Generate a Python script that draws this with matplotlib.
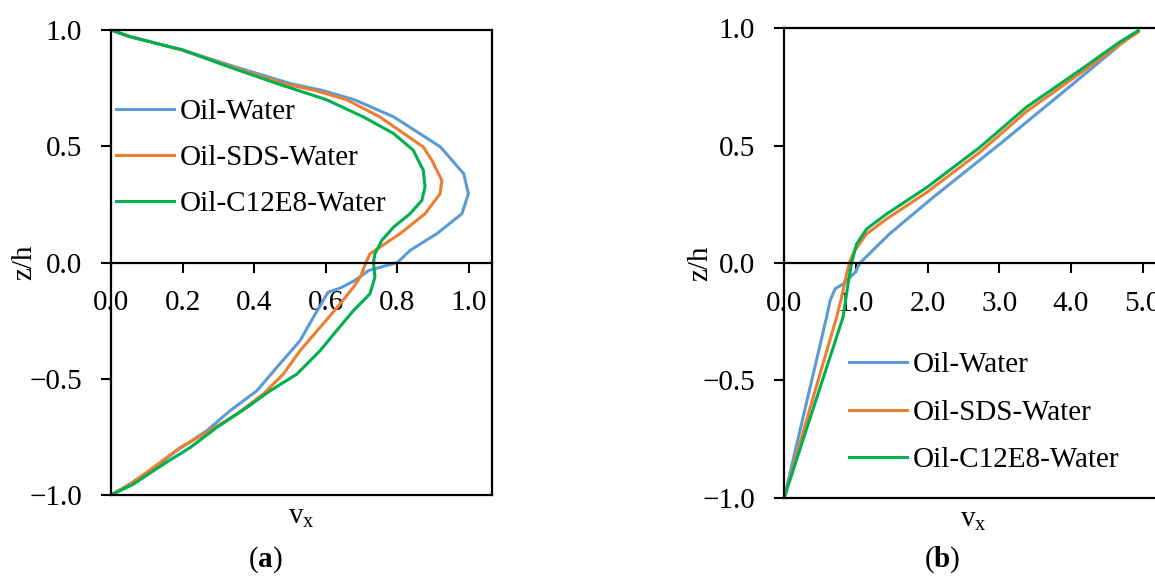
import numpy as np
import matplotlib
matplotlib.use("Agg")
from matplotlib import pyplot as plt

plt.rcParams['font.family'] = ['Liberation Serif', 'DejaVu Serif']
plt.rcParams['mathtext.fontset'] = 'custom'
plt.rcParams['mathtext.rm'] = 'Liberation Serif'
plt.rcParams['mathtext.it'] = 'Liberation Serif:italic'
plt.rcParams['mathtext.bf'] = 'Liberation Serif:bold'

labels = ['Oil-Water', 'Oil-SDS-Water', 'Oil-C12E8-Water']
colors = ['#5B9BD5', '#ED7D31', '#00B050']

# (a) velocity profiles, v_x against z/h
a_ow_v = [0.0, 0.044, 0.109, 0.183, 0.267, 0.332, 0.407, 0.463, 0.528, 0.565, 0.606, 0.64, 0.68,
          0.72, 0.80, 0.835, 0.91, 0.98, 0.998, 0.985, 0.92, 0.79, 0.68, 0.59, 0.50, 0.35, 0.2, 0.055, 0.0]
a_ow_z = [-1.0, -0.961, -0.897, -0.81, -0.724, -0.638, -0.552, -0.451, -0.336, -0.236, -0.128, -0.11, -0.078,
          -0.034, 0.0, 0.052, 0.124, 0.21, 0.296, 0.382, 0.497, 0.626, 0.70, 0.74, 0.77, 0.84, 0.914, 0.971, 1.0]

a_sds_v = [0.0, 0.053, 0.118, 0.193, 0.267, 0.351, 0.425, 0.481, 0.528, 0.584, 0.64, 0.677, 0.696,
           0.712, 0.723, 0.751, 0.807, 0.877, 0.919, 0.924, 0.896, 0.872, 0.751, 0.658, 0.57, 0.48, 0.34, 0.2, 0.054, 0.0]
a_sds_z = [-1.0, -0.954, -0.882, -0.796, -0.731, -0.652, -0.566, -0.48, -0.379, -0.279, -0.178, -0.106, -0.063,
           0.0, 0.037, 0.066, 0.124, 0.21, 0.296, 0.353, 0.44, 0.497, 0.626, 0.70, 0.74, 0.77, 0.84, 0.914, 0.971, 1.0]

a_c12_v = [0.0, 0.062, 0.146, 0.221, 0.295, 0.379, 0.444, 0.519, 0.584, 0.63, 0.677, 0.723, 0.737,
           0.733, 0.737, 0.756, 0.789, 0.835, 0.868, 0.877, 0.872, 0.844, 0.789, 0.705, 0.602, 0.463, 0.332, 0.2, 0.053, 0.0]
a_c12_z = [-1.0, -0.954, -0.868, -0.796, -0.71, -0.624, -0.552, -0.48, -0.379, -0.293, -0.207, -0.135, -0.063,
           0.0, 0.037, 0.095, 0.152, 0.21, 0.267, 0.325, 0.397, 0.483, 0.555, 0.626, 0.70, 0.77, 0.84, 0.914, 0.971, 1.0]

# (b) velocity profiles
b_ow_v = [0.0, 0.317, 0.59, 0.64, 0.71, 0.82, 0.99, 1.056, 1.47, 2.08, 3.01, 4.03, 4.73, 4.93]
b_ow_z = [-1.0, -0.587, -0.232, -0.16, -0.11, -0.09, -0.04, 0.0, 0.124, 0.28, 0.507, 0.763, 0.941, 0.985]

b_sds_v = [0.0, 0.39, 0.73, 0.80, 0.87, 0.92, 0.98, 1.15, 1.43, 1.99, 2.73, 3.38, 4.12, 4.70, 4.94]
b_sds_z = [-1.0, -0.587, -0.232, -0.147, -0.047, 0.01, 0.052, 0.124, 0.188, 0.301, 0.472, 0.645, 0.806, 0.935, 0.985]

b_c12_v = [0.0, 0.44, 0.82, 0.89, 0.94, 1.01, 1.15, 1.43, 1.99, 2.73, 3.38, 4.12, 4.68, 4.94]
b_c12_z = [-1.0, -0.587, -0.232, -0.09, 0.0, 0.081, 0.145, 0.209, 0.322, 0.493, 0.664, 0.82, 0.941, 0.99]

xticks_a = [0.0, 0.2, 0.4, 0.6, 0.8, 1.0]
xticks_b = [0.0, 1.0, 2.0, 3.0, 4.0, 5.0]
yticks = [-1.0, -0.5, 0.0, 0.5, 1.0]

FS = 21
LW = 2.2

fig = plt.figure(figsize=(11.55, 5.76), dpi=100)
ax_a = fig.add_axes([0.0961, 0.1406, 0.3299, 0.8073])
ax_b = fig.add_axes([0.679, 0.136, 0.327, 0.815])

fmt = plt.FuncFormatter(lambda x, p: f'{x:.1f}'.replace('-', '\u2212'))


def style_axes(ax, xticks, xmax, ylab_x):
    ax.set_xlim(0, xmax)
    ax.set_ylim(-1.0, 1.0)
    for s in ax.spines.values():
        s.set_linewidth(1.6)
    ax.spines['bottom'].set_position(('data', 0))
    # box line along the lower edge
    ax.plot([0, 1], [0, 0], transform=ax.transAxes, color='k', lw=1.6, clip_on=False)
    ax.set_xticks(xticks)
    ax.set_yticks(yticks)
    ax.xaxis.set_major_formatter(fmt)
    ax.yaxis.set_major_formatter(fmt)
    ax.tick_params(direction='out', length=7, width=1.5, labelsize=FS)
    ax.tick_params(axis='y', pad=14)
    ax.tick_params(axis='x', pad=13)
    ax.set_ylabel('z/h', fontsize=FS)
    ax.yaxis.set_label_coords(ylab_x, 0.5)
    ax.set_xlabel(r'v$_{\mathrm{x}}$', fontsize=FS)
    ax.xaxis.set_label_coords(0.5, -0.02)


series_a = [(a_ow_v, a_ow_z), (a_sds_v, a_sds_z), (a_c12_v, a_c12_z)]
series_b = [(b_ow_v, b_ow_z), (b_sds_v, b_sds_z), (b_c12_v, b_c12_z)]

for (v, z), lab, c in zip(series_a, labels, colors):
    ax_a.plot(v, z, color=c, lw=LW, label=lab)
for (v, z), lab, c in zip(series_b, labels, colors):
    ax_b.plot(v, z, color=c, lw=LW, label=lab)

style_axes(ax_a, xticks_a, 1.064, -0.194)
style_axes(ax_b, xticks_b, 5.27, -0.189)

ax_a.legend(loc='upper left', bbox_to_anchor=(-0.018, 0.878), frameon=False, fontsize=FS,
            handlelength=2.0, handletextpad=0.2, labelspacing=0.68, borderaxespad=0)
ax_b.legend(loc='upper left', bbox_to_anchor=(0.14, 0.335), frameon=False, fontsize=FS,
            handlelength=2.0, handletextpad=0.2, labelspacing=0.72, borderaxespad=0)

fig.text(265 / 1155, 1 - 560 / 576, r'($\mathbf{a}$)', fontsize=FS, ha='center', va='center')
fig.text(942 / 1155, 1 - 560 / 576, r'($\mathbf{b}$)', fontsize=FS, ha='center', va='center')

fig.savefig('out.png', dpi=100)
